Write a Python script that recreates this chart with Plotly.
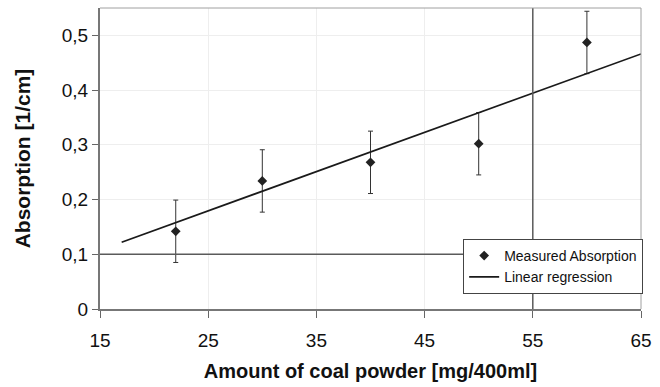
import plotly.graph_objects as go

# Data
amount = [22, 30, 40, 50, 60]
absorption = [0.142, 0.234, 0.268, 0.302, 0.487]
abs_error = [0.057, 0.057, 0.057, 0.057, 0.057]
reg_x = [17, 65]
reg_y = [0.122, 0.466]
x_ticks = [15, 25, 35, 45, 55, 65]
y_ticks = [0, 0.1, 0.2, 0.3, 0.4, 0.5]
ref_x = 55
ref_y = 0.1

fig = go.Figure()
fig.add_trace(go.Scatter(
    x=amount, y=absorption, mode="markers", name="Measured Absorption",
    marker=dict(symbol="diamond", size=7.5, color="#222222"),
    error_y=dict(type="data", array=abs_error, visible=True, color="#333333", thickness=1, width=2.5),
))
fig.add_trace(go.Scatter(
    x=reg_x, y=reg_y, mode="lines", name="Linear regression",
    line=dict(color="#1a1a1a", width=1.7),
))

# reference lines
fig.add_shape(type="line", xref="x", yref="paper", x0=ref_x, x1=ref_x, y0=0, y1=1,
              line=dict(color="#5a5a5a", width=1.5), layer="above")
fig.add_shape(type="line", xref="paper", yref="y", x0=0, x1=1, y0=ref_y, y1=ref_y,
              line=dict(color="#5a5a5a", width=1.5), layer="above")
# light frame on top / right
fig.add_shape(type="line", xref="paper", yref="paper", x0=0, x1=1, y0=1, y1=1,
              line=dict(color="#a0a0a0", width=1))
fig.add_shape(type="line", xref="paper", yref="paper", x0=1, x1=1, y0=0, y1=1,
              line=dict(color="#a0a0a0", width=1))

axis_font = dict(family="Liberation Sans, Arial, sans-serif", size=19, color="#111111")
title_font = dict(family="Liberation Sans, Arial, sans-serif", size=20, color="#111111")

fig.update_layout(
    width=660, height=387,
    margin=dict(l=100, r=12, t=8, b=78),
    plot_bgcolor="white", paper_bgcolor="white",
    separators=",.",
    showlegend=True,
    legend=dict(
        x=1.004, y=0.2326, xanchor="right", yanchor="top",
        bgcolor="white", bordercolor="#444444", borderwidth=1,
        font=dict(family="Liberation Sans Narrow, Arial Narrow, sans-serif", size=14, color="#111111"),
        tracegroupgap=0, itemwidth=30,
    ),
    xaxis=dict(
        range=[15, 65], tickvals=x_ticks, ticks="outside", ticklen=7, tickcolor="#666666",
        showline=True, linecolor="#777777", linewidth=2,
        showgrid=True, gridcolor="#eeeeee", gridwidth=1, zeroline=False,
        tickfont=axis_font, ticklabelstandoff=6,
        title=dict(text="<b>Amount of coal powder [mg/400ml]</b>", font=title_font, standoff=14),
    ),
    yaxis=dict(
        range=[0, 0.55], tickvals=y_ticks, ticks="outside", ticklen=6, tickcolor="#666666",
        showline=True, linecolor="#777777", linewidth=2,
        showgrid=True, gridcolor="#eeeeee", gridwidth=1, zeroline=False,
        tickfont=axis_font,
        title=dict(text="<b>Absorption [1/cm]</b>", font=dict(family="Liberation Sans, Arial, sans-serif", size=21, color="#111111"), standoff=25),
    ),
)

fig.write_html("out.html")
